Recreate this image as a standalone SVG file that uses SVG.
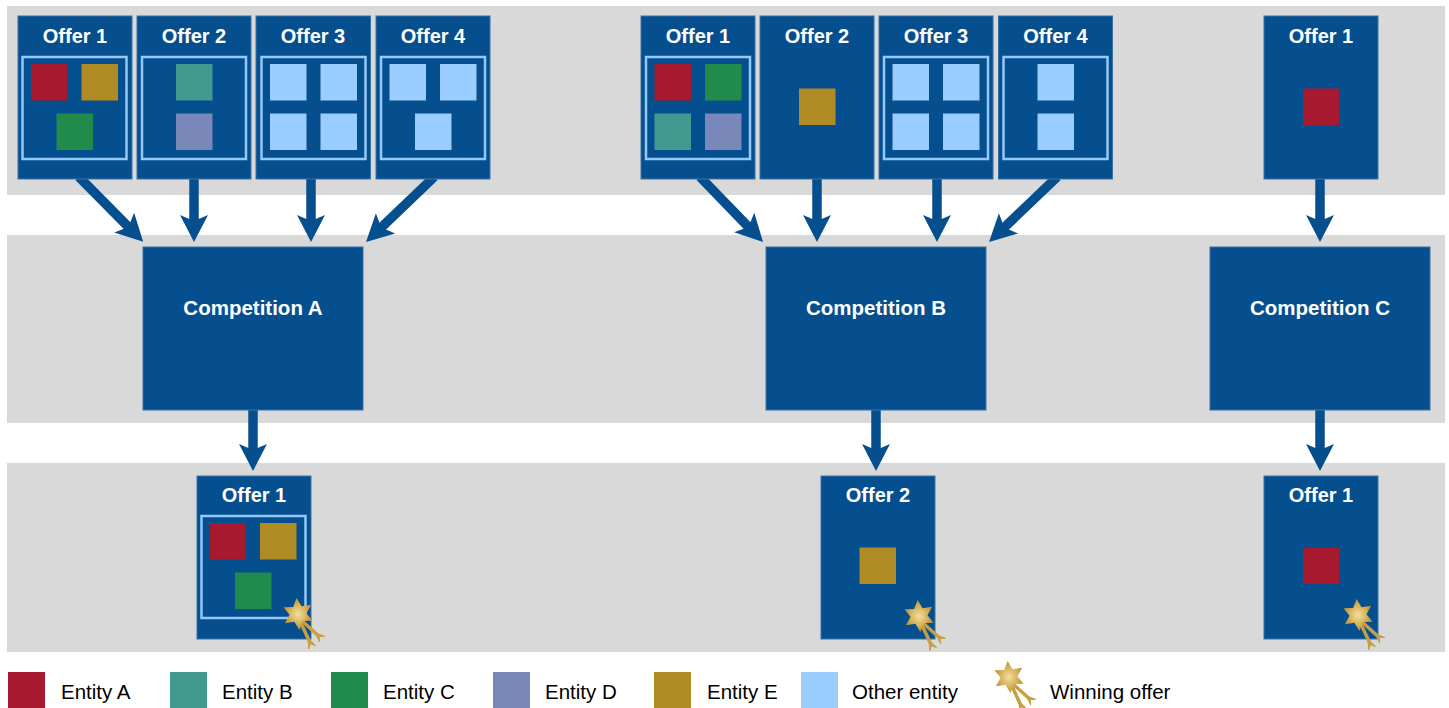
<svg xmlns="http://www.w3.org/2000/svg" width="1449" height="708" viewBox="0 0 1449 708">
<defs>
<style>
.band{fill:#d9d9d9}
.box{fill:#064f8f;stroke:#3a72a6;stroke-width:1}
.frame{fill:none;stroke:#93c8fa;stroke-width:2.5}
.t{font-family:"Liberation Sans",Arial,sans-serif;font-weight:bold;font-size:20px;fill:#fff;text-anchor:middle}
.ct{font-family:"Liberation Sans",Arial,sans-serif;font-weight:bold;font-size:20.5px;fill:#fff;text-anchor:middle}
.lg{font-family:"Liberation Sans",Arial,sans-serif;font-size:20.5px;fill:#000}
.a{fill:#a6192e}.b{fill:#419990}.c{fill:#218b4b}.d{fill:#7888b9}.e{fill:#b08a22}.o{fill:#99ccff}
.conn{stroke:#064f8f;stroke-width:9.5;fill:none;marker-end:url(#ah)}
</style>
<marker id="ah" markerUnits="userSpaceOnUse" viewBox="-28 -15 29 30" markerWidth="29" markerHeight="30" refX="-20" refY="0" orient="auto">
<path d="M0,0 L-27,-14 L-21,0 L-27,14 Z" fill="#064f8f"/>
</marker>
<radialGradient id="gold" cx="0.5" cy="0.5" r="0.5">
<stop offset="0" stop-color="#f3dea0"/>
<stop offset="0.6" stop-color="#d6b25a"/>
<stop offset="1" stop-color="#bb9036"/>
</radialGradient>
<symbol id="win" overflow="visible">
<g fill="#c89f45" stroke="#c89f45" stroke-width="1.2" stroke-linejoin="round">
<polygon points="3.67,5.26 20.35,20.08 26.35,22.4 21.03,22.32 21.65,27.6 18.75,21.86 2.33,6.74"/>
<polygon points="2.91,6.58 12.58,27.05 17.18,31.53 12.32,29.37 10.82,34.47 10.4,28.05 1.09,7.42"/>
</g>
<polygon points="-1.39,-15.94 3.59,-7.71 13.11,-9.17 8.47,-0.74 14.5,6.76 4.87,6.96 1.39,15.94 -3.59,7.71 -13.11,9.17 -8.47,0.74 -14.5,-6.76 -4.87,-6.96" fill="url(#gold)"/>
</symbol>
</defs>

<g id="bands">
<rect class="band" x="7" y="6" width="1438" height="189"/>
<rect class="band" x="7" y="235" width="1438" height="188"/>
<rect class="band" x="7" y="463" width="1438" height="189"/>
</g>

<g id="connectors">
<line class="conn" x1="78.9" y1="176.8" x2="129.1" y2="227.6"/>
<line class="conn" x1="194" y1="175" x2="194" y2="222"/>
<line class="conn" x1="311" y1="175" x2="311" y2="222"/>
<line class="conn" x1="434.2" y1="176.9" x2="380.5" y2="228.2"/>
<line class="conn" x1="699.9" y1="176.8" x2="749.1" y2="227.6"/>
<line class="conn" x1="817" y1="175" x2="817" y2="222"/>
<line class="conn" x1="937" y1="175" x2="937" y2="222"/>
<line class="conn" x1="1057.2" y1="176.9" x2="1003.5" y2="228.2"/>
<line class="conn" x1="1320" y1="175" x2="1320" y2="222"/>
<line class="conn" x1="253" y1="405" x2="253" y2="451"/>
<line class="conn" x1="876" y1="405" x2="876" y2="451"/>
<line class="conn" x1="1320" y1="405" x2="1320" y2="451"/>
</g>

<g id="a-offer1">
<rect class="box" x="18" y="16" width="114" height="163"/>
<text class="t" x="75" y="43">Offer 1</text>
<rect class="frame" x="22.5" y="57" width="104" height="102"/>
<rect class="a" x="31" y="64" width="36.5" height="36.5"/>
<rect class="e" x="81.5" y="64" width="36.5" height="36.5"/>
<rect class="c" x="56.5" y="113.5" width="36.5" height="36.5"/>
</g>
<g id="a-offer2">
<rect class="box" x="137" y="16" width="114" height="163"/>
<text class="t" x="194" y="43">Offer 2</text>
<rect class="frame" x="142" y="57" width="104" height="102"/>
<rect class="b" x="176" y="64" width="36.5" height="36.5"/>
<rect class="d" x="176" y="113.5" width="36.5" height="36.5"/>
</g>
<g id="a-offer3">
<rect class="box" x="256" y="16" width="114.5" height="163"/>
<text class="t" x="313" y="43">Offer 3</text>
<rect class="frame" x="261.5" y="57" width="104" height="102"/>
<rect class="o" x="270" y="64" width="36.5" height="36.5"/>
<rect class="o" x="320.5" y="64" width="36.5" height="36.5"/>
<rect class="o" x="270" y="113.5" width="36.5" height="36.5"/>
<rect class="o" x="320.5" y="113.5" width="36.5" height="36.5"/>
</g>
<g id="a-offer4">
<rect class="box" x="376" y="16" width="114" height="163"/>
<text class="t" x="433" y="43">Offer 4</text>
<rect class="frame" x="381" y="57" width="104" height="102"/>
<rect class="o" x="389.5" y="64" width="36.5" height="36.5"/>
<rect class="o" x="440" y="64" width="36.5" height="36.5"/>
<rect class="o" x="415" y="113.5" width="36.5" height="36.5"/>
</g>

<g id="b-offer1">
<rect class="box" x="641" y="16" width="114" height="163"/>
<text class="t" x="698" y="43">Offer 1</text>
<rect class="frame" x="646" y="57" width="104" height="102"/>
<rect class="a" x="654.5" y="64" width="36.5" height="36.5"/>
<rect class="c" x="705" y="64" width="36.5" height="36.5"/>
<rect class="b" x="654.5" y="113.5" width="36.5" height="36.5"/>
<rect class="d" x="705" y="113.5" width="36.5" height="36.5"/>
</g>
<g id="b-offer2">
<rect class="box" x="760" y="16" width="114" height="163"/>
<text class="t" x="817" y="43">Offer 2</text>
<rect class="e" x="799" y="88.5" width="36.5" height="36.5"/>
</g>
<g id="b-offer3">
<rect class="box" x="879" y="16" width="114" height="163"/>
<text class="t" x="936" y="43">Offer 3</text>
<rect class="frame" x="884" y="57" width="104" height="102"/>
<rect class="o" x="892.5" y="64" width="36.5" height="36.5"/>
<rect class="o" x="943" y="64" width="36.5" height="36.5"/>
<rect class="o" x="892.5" y="113.5" width="36.5" height="36.5"/>
<rect class="o" x="943" y="113.5" width="36.5" height="36.5"/>
</g>
<g id="b-offer4">
<rect class="box" x="998.5" y="16" width="114" height="163"/>
<text class="t" x="1055.5" y="43">Offer 4</text>
<rect class="frame" x="1003.5" y="57" width="104" height="102"/>
<rect class="o" x="1037.5" y="64" width="36.5" height="36.5"/>
<rect class="o" x="1037.5" y="113.5" width="36.5" height="36.5"/>
</g>

<g id="c-offer1">
<rect class="box" x="1264" y="16" width="114" height="163"/>
<text class="t" x="1321" y="43">Offer 1</text>
<rect class="a" x="1303" y="88.5" width="36.5" height="36.5"/>
</g>

<g id="competition-a">
<rect class="box" x="143" y="247" width="220" height="163"/>
<text class="ct" x="253" y="315">Competition A</text>
</g>
<g id="competition-b">
<rect class="box" x="766" y="247" width="220" height="163"/>
<text class="ct" x="876" y="315">Competition B</text>
</g>
<g id="competition-c">
<rect class="box" x="1210" y="247" width="220" height="163"/>
<text class="ct" x="1320" y="315">Competition C</text>
</g>

<g id="a-result">
<rect class="box" x="197" y="476" width="114" height="163"/>
<text class="t" x="254" y="502">Offer 1</text>
<rect class="frame" x="201.5" y="516" width="104" height="102"/>
<rect class="a" x="209.5" y="523" width="36.5" height="36.5"/>
<rect class="e" x="260" y="523" width="36.5" height="36.5"/>
<rect class="c" x="235" y="572.5" width="36.5" height="36.5"/>
<use href="#win" x="298" y="614"/>
</g>
<g id="b-result">
<rect class="box" x="821" y="476" width="114" height="163"/>
<text class="t" x="878" y="502">Offer 2</text>
<rect class="e" x="859.5" y="547.5" width="36.5" height="36.5"/>
<use href="#win" x="919" y="616"/>
</g>
<g id="c-result">
<rect class="box" x="1264" y="476" width="114" height="163"/>
<text class="t" x="1321" y="502">Offer 1</text>
<rect class="a" x="1303" y="547.5" width="36.5" height="36.5"/>
<use href="#win" x="1358" y="615"/>
</g>

<g id="legend">
<rect class="a" x="8" y="672" width="37" height="36"/>
<text class="lg" x="61" y="699">Entity A</text>
<rect class="b" x="170" y="672" width="37" height="36"/>
<text class="lg" x="222" y="699">Entity B</text>
<rect class="c" x="331" y="672" width="37" height="36"/>
<text class="lg" x="383" y="699">Entity C</text>
<rect class="d" x="493" y="672" width="37" height="36"/>
<text class="lg" x="545" y="699">Entity D</text>
<rect class="e" x="654" y="672" width="37" height="36"/>
<text class="lg" x="707" y="699">Entity E</text>
<rect class="o" x="801" y="672" width="37" height="36"/>
<text class="lg" x="852" y="699">Other entity</text>
<use href="#win" x="1009" y="677"/>
<text class="lg" x="1050" y="699">Winning offer</text>
</g>
</svg>
